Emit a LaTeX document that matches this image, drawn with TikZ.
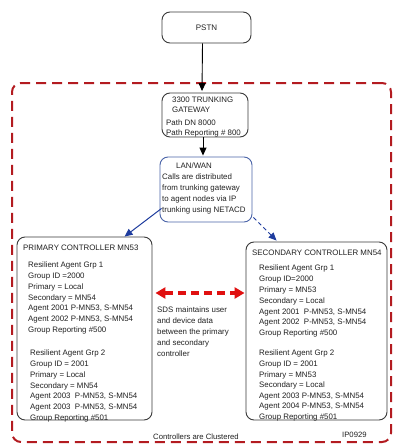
\documentclass[tikz,border=0pt]{standalone}
\usepackage{fontspec}
\setmainfont{Liberation Sans}
\usetikzlibrary{arrows.meta,calc}
\definecolor{edgegray}{HTML}{3A3A3A}
\definecolor{ink}{HTML}{222222}
\definecolor{lanblue}{HTML}{4A64A8}
\definecolor{linkblue}{HTML}{1E3C9E}
\definecolor{clusterred}{HTML}{B31B20}
\definecolor{sdsred}{HTML}{E01010}
\begin{document}
\begin{tikzpicture}[x=1pt,y=-1pt,
  box/.style={draw=edgegray, line width=0.9pt, rounded corners=8pt, inner sep=0pt, text=ink,
    font=\fontsize{8}{10.7}\selectfont},
  txt/.style={inner sep=0pt, anchor=north west, align=left, text=ink,
    font=\fontsize{7.9}{10.7}\selectfont},
  arr/.style={draw=black, line width=0.9pt, -{Triangle[length=8pt,width=7pt]}},
  bluearr/.style={draw=linkblue, line width=1pt, -{Triangle[length=8pt,width=7pt]}},
  sync/.style={draw=sdsred, line width=3.5pt, dash pattern=on 8pt off 5pt,
    {Triangle[length=10pt,width=11pt]}-{Triangle[length=10pt,width=11pt]}},
  cluster/.style={draw=clusterred, line width=2pt, dash pattern=on 10pt off 6pt,
    rounded corners=9pt, inner sep=0pt}]
\useasboundingbox[fill=white] (0,0) rectangle (396,447);

% clustered controllers enclosure
\node[cluster, minimum width=379pt, minimum height=359pt] (clusterzone) at (201.5,262.5) {};

% boxes
\node[box, minimum width=89pt, minimum height=31pt] (pstn) at (206.5,27.5) {PSTN};
\node[box, minimum width=86pt, minimum height=44pt] (gw) at (205,115) {};
\node[box, draw=lanblue, minimum width=92pt, minimum height=65pt] (lan) at (206,189.5) {};
\node[box, minimum width=135pt, minimum height=183pt] (primary) at (84.5,328.5) {};
\node[box, minimum width=141pt, minimum height=178pt] (secondary) at (316.5,331) {};

% gateway text
\node[txt, font=\fontsize{7.9}{10}\selectfont] (gwtitle) at (172,97) {3300 TRUNKING\\GATEWAY};
\node[txt, font=\fontsize{7.9}{10}\selectfont] (gwpath) at (166,120) {Path DN 8000\\Path Reporting \# 800};

% LAN/WAN text
\node[txt] (lantitle) at (176,163) {LAN/WAN};
\node[txt, font=\fontsize{7.9}{11}\selectfont] (lanbody) at (162,174)
  {Calls are distributed\\from trunking gateway\\to agent nodes via IP\\trunking using NETACD};

% primary controller text
\node[txt] (primtitle) at (23,245) {PRIMARY CONTROLLER MN53};
\node[txt] (primgrpA) at (28,262)
  {Resilient Agent Grp 1\\Group ID =2000\\Primary = Local\\Secondary = MN54\\%
   Agent 2001 P-MN53, S-MN54\\Agent 2002 P-MN53, S-MN54\\Group Reporting \#500};
\node[txt] (primgrpB) at (30,350)
  {Resilient Agent Grp 2\\Group ID = 2001\\Primary = Local\\Secondary = MN54\\%
   Agent 2003\ \ P-MN53, S-MN54\\Agent 2003\ \ P-MN53, S-MN54\\Group Reporting \#501};

% secondary controller text
\node[txt] (sectitle) at (252,250) {SECONDARY CONTROLLER MN54};
\node[txt, font=\fontsize{7.9}{10.8}\selectfont] (secgrpA) at (259,265)
  {Resilient Agent Grp 1\\Group ID=2000\\Primary = MN53\\Secondary = Local\\%
   Agent 2001\ \ P-MN53, S-MN54\\Agent 2002\ \ P-MN53, S-MN54\\Group Reporting \#500};
\node[txt, font=\fontsize{7.9}{10.6}\selectfont] (secgrpB) at (259,350)
  {Resilient Agent Grp 2\\Group ID = 2001\\Primary = MN53\\Secondary = Local\\%
   Agent 2003 P-MN53, S-MN54\\Agent 2004 P-MN53, S-MN54\\Group Reporting \#501};

% SDS note
\node[txt, font=\fontsize{7.9}{10.8}\selectfont] (sdsnote) at (157,307)
  {SDS maintains user\\and device data\\between the primary\\and secondary\\controller};

% footer labels
\node[txt, font=\fontsize{7.7}{10}\selectfont] (clusternote) at (153,434) {Controllers are Clustered};
\node[txt, font=\fontsize{7.7}{10}\selectfont] (figid) at (342,432) {IP0929};

% connectors
\draw[arr, shorten >=1.5pt] ([xshift=-4pt]pstn.south) -- ([xshift=-3pt]gw.north);
\draw[arr, shorten >=1pt] ([xshift=-2pt]gw.south) -- ([xshift=-3pt]lan.north);
\draw[bluearr] ($(lan.south west)+(2,-14)$) -- ($(primary.north west)+(108,0)$);
\draw[bluearr, dash pattern=on 4pt off 3pt] ($(lan.south east)+(1,-5)$) -- ($(secondary.north west)+(31,-1)$);
\draw[sync] ([xshift=3pt,yshift=35.5pt]primary.east) -- ([xshift=-1pt,yshift=38pt]secondary.west);
\end{tikzpicture}
\end{document}
